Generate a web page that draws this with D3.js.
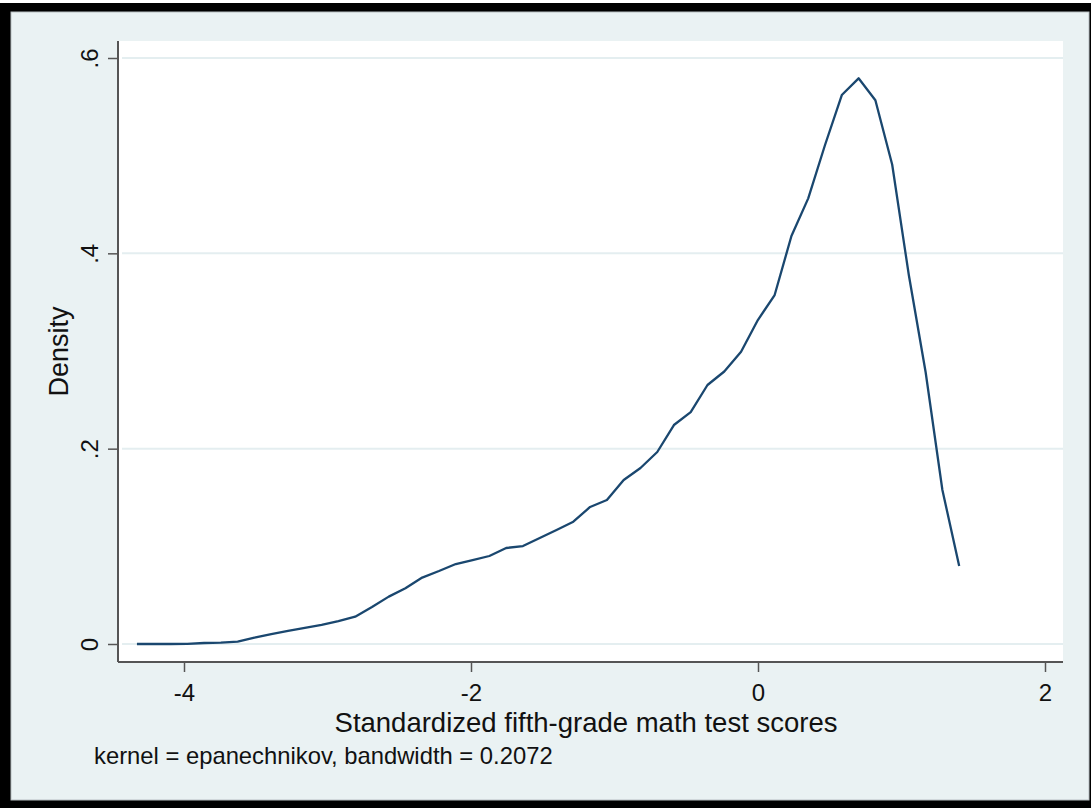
<!DOCTYPE html>
<html>
<head>
<meta charset="utf-8">
<script src="https://cdn.jsdelivr.net/npm/d3@7"></script>
<style>
  body { margin: 0; background: #fff; }
  svg { display: block; font-family: Arial, "Liberation Sans", sans-serif; }
</style>
</head>
<body>
<div id="chart-container"></div>
<script>
// kernel density estimate, 50 evaluation points
const scores = [
  -4.328, -4.211, -4.094, -3.977, -3.860, -3.743, -3.626, -3.509, -3.392, -3.275,
  -3.158, -3.041, -2.924, -2.807, -2.690, -2.573, -2.457, -2.340, -2.223, -2.106,
  -1.989, -1.872, -1.755, -1.638, -1.521, -1.404, -1.287, -1.170, -1.053, -0.936,
  -0.819, -0.702, -0.586, -0.469, -0.352, -0.235, -0.118, -0.001, 0.116, 0.233,
  0.350, 0.467, 0.584, 0.701, 0.818, 0.935, 1.051, 1.168, 1.285, 1.402
];
const density = [
  0, 0, 0, 0.0002, 0.001, 0.0015, 0.0024, 0.0065, 0.0102, 0.0135,
  0.0165, 0.0195, 0.0235, 0.028, 0.0378, 0.0485, 0.057, 0.068, 0.0747, 0.0819,
  0.086, 0.0901, 0.0983, 0.1003, 0.1085, 0.1167, 0.1252, 0.1403, 0.1474, 0.1679,
  0.1802, 0.1966, 0.2242, 0.2375, 0.2652, 0.279, 0.2993, 0.3317, 0.3573, 0.4177,
  0.4563, 0.5109, 0.5621, 0.5792, 0.5567, 0.491, 0.3778, 0.2785, 0.1577, 0.0799
];
const xTicks = [-4, -2, 0, 2];
const yTicks = [0, 0.2, 0.4, 0.6];
const yTickLabels = ["0", ".2", ".4", ".6"];
const xTitle = "Standardized fifth-grade math test scores";
const yTitle = "Density";
const note = "kernel = epanechnikov, bandwidth = 0.2072";

const width = 1091;
const height = 808;

// plot region (white area)
const plotLeft = 118, plotRight = 1063, plotTop = 41, plotBottom = 662;

const x = d3.scaleLinear().domain([-4, 2]).range([184, 1045]);
const y = d3.scaleLinear().domain([0, 0.6]).range([644, 58]);

const svg = d3.select("#chart-container")
  .append("svg")
  .attr("width", width)
  .attr("height", height)
  .attr("viewBox", [0, 0, width, height]);

// outer frame + graph background
svg.append("rect").attr("x", 0).attr("y", 3).attr("width", width).attr("height", height - 3).attr("fill", "#000");
svg.append("rect").attr("x", 11).attr("y", 12).attr("width", 1078).attr("height", 788)
  .attr("fill", "#eaf2f3").attr("stroke", "#b8bfc2").attr("stroke-width", 1);

// plot region
svg.append("rect")
  .attr("x", plotLeft).attr("y", plotTop)
  .attr("width", plotRight - plotLeft).attr("height", plotBottom - plotTop)
  .attr("fill", "#fff");

// gridlines
svg.append("g")
  .selectAll("line")
  .data(yTicks)
  .join("line")
  .attr("x1", plotLeft + 4).attr("x2", plotRight)
  .attr("y1", d => y(d)).attr("y2", d => y(d))
  .attr("stroke", "#e4eef0").attr("stroke-width", 2);

// density line
const line = d3.line()
  .x((d, i) => x(scores[i]))
  .y(d => y(d));

svg.append("path")
  .datum(density)
  .attr("fill", "none")
  .attr("stroke", "#1a476f")
  .attr("stroke-width", 2.3)
  .attr("stroke-linejoin", "round")
  .attr("d", line);

// axes
const axisColor = "#555";

svg.append("g")
  .attr("transform", `translate(0,${plotBottom})`)
  .call(d3.axisBottom(x).tickValues(xTicks).tickSize(10).tickFormat(d3.format("d")))
  .call(g => g.select(".domain").remove())
  .call(g => g.selectAll(".tick line").attr("stroke", axisColor).attr("stroke-width", 1.5))
  .call(g => g.selectAll(".tick text")
    .attr("y", 39).attr("dy", 0)
    .attr("fill", "#111")
    .attr("font-size", 24)
    .text(d => d < 0 ? "-" + Math.abs(d) : d));

svg.append("g")
  .attr("transform", `translate(${plotLeft},0)`)
  .call(d3.axisLeft(y).tickValues(yTicks).tickSize(10).tickFormat((d, i) => yTickLabels[i]))
  .call(g => g.select(".domain").remove())
  .call(g => g.selectAll(".tick line").attr("stroke", axisColor).attr("stroke-width", 1.5))
  .call(g => g.selectAll(".tick text")
    .attr("transform", "rotate(-90)")
    .attr("x", 0).attr("y", -20).attr("dy", 0)
    .attr("text-anchor", "middle")
    .attr("fill", "#111")
    .attr("font-size", 24));

// axis lines
svg.append("line")
  .attr("x1", plotLeft).attr("x2", plotLeft)
  .attr("y1", plotTop).attr("y2", plotBottom)
  .attr("stroke", axisColor).attr("stroke-width", 2);
svg.append("line")
  .attr("x1", plotLeft).attr("x2", plotRight)
  .attr("y1", plotBottom).attr("y2", plotBottom)
  .attr("stroke", axisColor).attr("stroke-width", 2);

// titles
svg.append("text")
  .attr("x", 586)
  .attr("y", 732)
  .attr("text-anchor", "middle")
  .attr("font-size", 27.5)
  .attr("fill", "#111")
  .text(xTitle);

svg.append("text")
  .attr("transform", `translate(68,${(plotTop + plotBottom) / 2}) rotate(-90)`)
  .attr("text-anchor", "middle")
  .attr("font-size", 27)
  .attr("fill", "#111")
  .text(yTitle);

svg.append("text")
  .attr("x", 94)
  .attr("y", 764)
  .attr("font-size", 23.8)
  .attr("fill", "#111")
  .text(note);
</script>
</body>
</html>
